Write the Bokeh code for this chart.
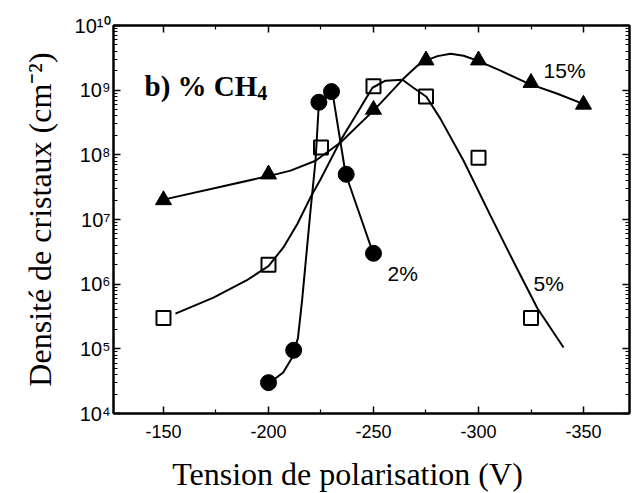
from bokeh.plotting import figure
from bokeh.models import Range1d, FixedTicker, LinearAxis, LogAxis, CustomJSTickFormatter, Label
from bokeh.embed import file_html
from bokeh.resources import INLINE

# ---- measured points (bias voltage in V, crystal density in cm^-2) ----
v2 = [-200, -212, -224, -230, -237, -250]
d2 = [3.0e4, 9.5e4, 6.5e8, 9.5e8, 5.0e7, 3.0e6]

v5 = [-150, -200, -225, -250, -275, -300, -325]
d5 = [3.0e5, 2.0e6, 1.3e8, 1.15e9, 8.0e8, 9.0e7, 3.0e5]

v15 = [-150, -200, -250, -275, -300, -325, -350]
d15 = [2.0e7, 5.0e7, 5.0e8, 2.9e9, 2.9e9, 1.3e9, 6.0e8]

# ---- hand-drawn guide curves ----
c2_v = [-200, -207, -211, -214, -216, -220, -222.4, -224, -230.5, -236.7, -250]
c2_d = [2.9e4, 4.3e4, 7.1e4, 1.45e5, 5.6e5, 1.37e7, 8.1e7, 6.4e8, 9.1e8, 5.1e7, 2.9e6]

c5_v = [-155.7, -173.8, -189.5, -200, -207.1, -213.8, -220, -224.8, -234.3, -241.4,
        -249.5, -255.7, -263.8, -269, -275.2, -281.9, -292.9, -305.7, -317.6, -328.1, -340.5]
c5_d = [3.5e5, 6.2e5, 1.14e6, 1.9e6, 3.7e6, 8.6e6, 2.2e7, 4.2e7, 1.66e8, 4.0e8,
        1.09e9, 1.40e9, 1.45e9, 1.09e9, 7.9e8, 3.6e8, 8.1e7, 1.15e7, 1.94e6, 4.2e5, 1.05e5]

c15_v = [-150, -201, -210.5, -222.4, -234.3, -250.5, -264.3, -271, -274.8, -280.5,
         -286.7, -292.9, -299.5, -310.5, -323.8, -337.6, -349.5]
c15_d = [2.03e7, 4.77e7, 5.7e7, 8.1e7, 1.55e8, 5.0e8, 1.51e9, 2.4e9, 2.86e9, 3.36e9,
         3.66e9, 3.4e9, 2.86e9, 2.0e9, 1.26e9, 8.8e8, 6.2e8]

# ---- ticks ----
x_major = [-150, -200, -250, -300, -350]
x_minor = [-125, -175, -225, -275, -325]
y_decades = [4, 5, 6, 7, 8, 9, 10]
y_major = [10.0 ** e for e in y_decades]
y_minor = [k * 10.0 ** e for e in y_decades[:-1] for k in range(2, 10)]

p = figure(
    x_range=Range1d(-126.2, -371.9),
    y_range=Range1d(1e4, 1e10),
    y_axis_type="log",
    frame_width=516, frame_height=388,
    min_border_left=113, min_border_right=3, min_border_top=25, min_border_bottom=78,
    output_backend="svg", toolbar_location=None,
    background_fill_color="white", border_fill_color="white",
)
p.grid.visible = False
p.outline_line_color = "black"
p.outline_line_width = 2

xt = FixedTicker(ticks=x_major, minor_ticks=x_minor)
yt = FixedTicker(ticks=y_major, minor_ticks=y_minor)

sup_code = """
const sup = {"0":"\u2070","1":"\u00b9","2":"\u00b2","3":"\u00b3","4":"\u2074","5":"\u2075",
             "6":"\u2076","7":"\u2077","8":"\u2078","9":"\u2079","-":"\u207b"};
const e = Math.round(Math.log10(tick));
return "10" + String(e).split("").map(c => sup[c]).join("");
"""
blank = CustomJSTickFormatter(code="return '';")

def style_axis(ax):
    ax.axis_line_color = "black"
    ax.axis_line_width = 2
    ax.major_tick_line_color = "black"
    ax.minor_tick_line_color = "black"
    ax.major_tick_line_width = 1.5
    ax.minor_tick_line_width = 1.2
    ax.major_tick_in = 7
    ax.major_tick_out = 0
    ax.minor_tick_in = 4
    ax.minor_tick_out = 0
    ax.major_label_text_color = "black"
    ax.major_label_text_font = "Liberation Sans"

xa = p.xaxis[0]
xa.ticker = xt
xa.formatter = CustomJSTickFormatter(code="return (tick < 0 ? '-' : '') + Math.abs(tick);")
style_axis(xa)
xa.major_label_text_font_size = "18px"
xa.major_label_standoff = 11
# trailing no-break spaces shift the centred label to the left, as in the original
xa.axis_label = "Tension de polarisation (V)" + "\u00a0" * 6
xa.axis_label_text_font = "Liberation Serif"
xa.axis_label_text_font_style = "normal"
xa.axis_label_text_font_size = "32px"
xa.axis_label_text_color = "black"
xa.axis_label_standoff = 15

ya = p.yaxis[0]
ya.ticker = yt
ya.formatter = CustomJSTickFormatter(code=sup_code)
style_axis(ya)
ya.major_label_text_font_size = "20px"
ya.major_label_standoff = 3
ya.axis_label = "Densité de cristaux (cm⁻²)"
ya.axis_label_text_font = "Liberation Serif"
ya.axis_label_text_font_style = "normal"
ya.axis_label_text_font_size = "32px"
ya.axis_label_text_color = "black"
ya.axis_label_standoff = 14

top = LinearAxis(ticker=xt, formatter=blank)
style_axis(top)
p.add_layout(top, "above")
right = LogAxis(ticker=yt, formatter=blank)
style_axis(right)
p.add_layout(right, "right")

# curves
lw = 2
p.line(c15_v, c15_d, line_color="black", line_width=lw)
p.line(c5_v, c5_d, line_color="black", line_width=lw)
p.line(c2_v, c2_d, line_color="black", line_width=lw)

# markers
p.scatter(v15, d15, marker="triangle", size=16, fill_color="black", line_color="black")
p.scatter(v5, d5, marker="square", size=14, fill_color=None, line_color="black", line_width=2)
p.scatter(v2, d2, marker="circle", size=16, fill_color="black", line_color="black")

# annotations
def lab(x, y, text, font, size, style="normal", align="left", baseline="alphabetic"):
    p.add_layout(Label(x=x, y=y, text=text, text_font=font, text_font_size=size,
                       text_font_style=style, text_color="black", text_align=align,
                       text_baseline=baseline))

lab(-141.0, 1.17e9, "b) % CH", "Liberation Serif", "29px", "bold")
lab(-194.6, 9.0e8, "4", "Liberation Serif", "20px", "bold")
lab(-331.0, 2.0e9, "15%", "Liberation Sans", "21px")
lab(-256.7, 1.46e6, "2%", "Liberation Sans", "21px")
lab(-326.2, 1.02e6, "5%", "Liberation Sans", "21px")

open("out.html", "w").write(file_html(p, INLINE))
